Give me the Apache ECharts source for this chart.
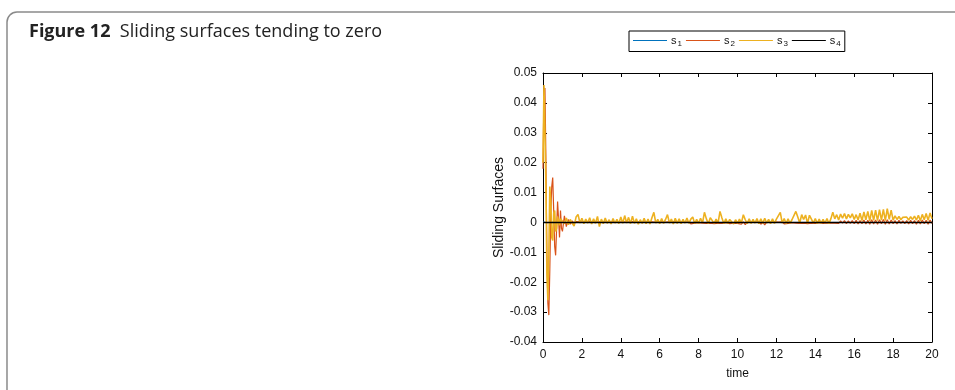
<!DOCTYPE html>
<html>
<head>
<meta charset="utf-8">
<script src="https://cdn.jsdelivr.net/npm/echarts@6/dist/echarts.min.js"></script>
<style>
  html, body { margin: 0; padding: 0; background: #fff; }
  #chart { width: 955px; height: 390px; }
</style>
</head>
<body>
<div id="chart"></div>
<script>
// Sliding surfaces s1..s4 of the controller over the simulation time.

const xTicks = [0, 2, 4, 6, 8, 10, 12, 14, 16, 18, 20];
const yTicks = [-0.04, -0.03, -0.02, -0.01, 0, 0.01, 0.02, 0.03, 0.04, 0.05];

// Initial transient, sampled every 0.05 s
const tEarly = [0, 0.05, 0.1, 0.15, 0.2, 0.25, 0.3, 0.35, 0.4, 0.45,
                0.5, 0.55, 0.6, 0.65, 0.7, 0.75, 0.8, 0.85, 0.9, 0.95];

const s2Early = [0.018, 0.044, 0.045, 0.021, -0.010, -0.027, -0.031, -0.016, 0.003, 0.012,
                 0.015, 0.004, -0.008, -0.011, -0.002, 0.007, 0.001, -0.005, 0.004, -0.002];

const s3Early = [0.020, 0.046, 0.046, 0.013, -0.017, -0.026, -0.011, 0.012, 0.007, -0.005,
                 -0.006, 0.003, 0.004, -0.003, -0.002, 0.002, 0.0015, -0.001, 0.0012, 0.0008];

// Remaining run, sampled every 0.1 s from t = 1 to t = 20
const LATE_START = 1;
const LATE_STEP = 0.1;

const s2Late = [
  -0.0030, 0.0022, -0.0014, 0.0010, -0.0006, 0.0005, -0.0004, 0.0003, -0.0002, 0.0002,
  -0.0002, 0.0001, -0.0003, 0.0002, -0.0001, 0.0003, -0.0002, 0.0001, -0.0004, 0.0002,
  -0.0001, 0.0002, -0.0003, 0.0001, -0.0002, 0.0002, -0.0001, 0.0003, -0.0002, 0.0001,
  -0.0003, 0.0002, -0.0001, 0.0001, -0.0004, 0.0002, -0.0002, 0.0003, -0.0001, 0.0002,
  -0.0002, 0.0001, -0.0003, 0.0002, -0.0001, 0.0003, -0.0002, 0.0001, -0.0003, 0.0002,
  -0.0001, 0.0002, -0.0002, 0.0001, -0.0003, 0.0002, -0.0001, 0.0003, -0.0002, 0.0001,
  -0.0004, 0.0002, -0.0002, 0.0001, -0.0003, 0.0002, -0.0005, 0.0001, -0.0002, 0.0002,
  -0.0001, 0.0003, -0.0002, 0.0001, -0.0003, 0.0002, -0.0002, 0.0001, -0.0004, 0.0002,
  -0.0002, 0.0001, -0.0003, 0.0002, -0.0001, 0.0002, -0.0004, 0.0001, -0.0002, 0.0003,
  -0.0003, 0.0001, -0.0006, 0.0002, -0.0007, 0.0001, -0.0005, 0.0002, -0.0003, 0.0001,
  -0.0002, 0.0002, -0.0006, 0.0001, -0.0008, 0.0002, -0.0003, 0.0001, -0.0002, 0.0002,
  -0.0003, 0.0001, -0.0002, 0.0002, -0.0005, 0.0001, -0.0003, 0.0002, -0.0001, 0.0002,
  -0.0002, 0.0001, -0.0003, 0.0002, -0.0002, 0.0001, -0.0004, 0.0002, -0.0002, 0.0001,
  -0.0003, 0.0002, -0.0001, 0.0001, -0.0003, 0.0002, -0.0002, 0.0001, -0.0002, 0.0003,
  -0.0002, 0.0004, -0.0003, 0.0005, -0.0002, 0.0006, -0.0004, 0.0005, -0.0003, 0.0006,
  -0.0004, 0.0007, -0.0005, 0.0006, -0.0004, 0.0008, -0.0005, 0.0007, -0.0006, 0.0009,
  -0.0005, 0.0008, -0.0006, 0.0009, -0.0004, 0.0010, -0.0006, 0.0009, -0.0005, 0.0008,
  -0.0004, 0.0006, -0.0005, 0.0007, -0.0003, 0.0005, -0.0004, 0.0006, -0.0005, 0.0007,
  -0.0004, 0.0006, -0.0006, 0.0007, -0.0005, 0.0008, -0.0004, 0.0007, -0.0006, 0.0008,
  -0.0003
];

const s3Late = [
  0.0012, -0.0004, 0.0015, -0.0008, 0.0010, -0.0003, -0.0012, 0.0018, 0.0027, -0.0002,
  0.0014, -0.0004, 0.0011, -0.0002, 0.0016, -0.0005, 0.0012, -0.0003, 0.0020, -0.0014,
  0.0011, -0.0004, 0.0015, -0.0003, 0.0009, -0.0005, 0.0013, -0.0002, 0.0010, -0.0004,
  0.0018, -0.0003, 0.0023, -0.0002, 0.0017, -0.0004, 0.0021, -0.0003, 0.0012, -0.0006,
  0.0009, -0.0003, 0.0014, -0.0004, 0.0011, -0.0005, 0.0016, 0.0034, -0.0002, 0.0010,
  -0.0004, 0.0013, -0.0003, 0.0010, 0.0026, -0.0002, 0.0011, -0.0005, 0.0014, -0.0003,
  0.0012, -0.0004, 0.0010, -0.0002, 0.0015, -0.0003, 0.0011, 0.0018, -0.0004, 0.0010,
  -0.0003, 0.0014, -0.0002, 0.0034, 0.0012, -0.0004, 0.0016, 0.0022, -0.0003, 0.0011,
  -0.0002, 0.0037, 0.0015, -0.0004, 0.0012, -0.0003, 0.0010, 0.0014, -0.0005, 0.0009,
  -0.0003, 0.0011, -0.0002, 0.0026, 0.0009, -0.0004, 0.0012, -0.0003, 0.0010, -0.0002,
  0.0013, -0.0004, 0.0012, -0.0003, 0.0014, -0.0002, 0.0010, -0.0004, 0.0012, -0.0003,
  0.0011, 0.0016, 0.0034, -0.0002, 0.0013, -0.0004, 0.0012, -0.0003, 0.0009, 0.0014,
  0.0037, 0.0018, -0.0002, 0.0026, 0.0010, 0.0025, -0.0003, 0.0024, 0.0011, -0.0002,
  0.0013, -0.0004, 0.0011, -0.0003, 0.0010, -0.0002, 0.0013, -0.0004, 0.0012, 0.0034,
  0.0012, 0.0026, 0.0008, 0.0028, 0.0014, 0.0030, 0.0012, 0.0027, 0.0015, 0.0029,
  0.0010, 0.0026, 0.0008, 0.0031, 0.0006, 0.0035, 0.0009, 0.0037, 0.0005, 0.0040,
  0.0007, 0.0041, 0.0006, 0.0043, 0.0008, 0.0044, 0.0006, 0.0046, 0.0010, 0.0041,
  0.0008, 0.0022, 0.0010, 0.0020, 0.0009, 0.0017, 0.0011, 0.0018, 0.0008, 0.0019,
  0.0010, 0.0021, 0.0008, 0.0024, 0.0006, 0.0027, 0.0009, 0.0030, 0.0007, 0.0032,
  0.0012
];

// s1 and s4 stay on the zero line
const tFlat = [0, 0.2, 0.4, 0.6, 0.8, 1, 2, 5, 10, 15, 20];
const s1Flat = [0.0002, -0.0001, 0.0001, 0, 0, 0, 0, 0, 0, 0, 0];
const s4Flat = [0, 0, 0, 0, 0, 0, 0, 0, 0, 0, 0];

const tLate = s3Late.map((_, i) => +(LATE_START + i * LATE_STEP).toFixed(2));
const tAll = tEarly.concat(tLate);

const pairs = (ts, vs) => ts.map((t, i) => [t, vs[i]]);

const chart = echarts.init(document.getElementById('chart'), null, { renderer: 'canvas' });

const tickFont = { fontFamily: 'Liberation Sans, Arial, sans-serif', fontSize: 12, color: '#111' };
const lineAxis = { show: true, onZero: false, lineStyle: { color: '#000', width: 1 } };
const tickIn = { show: true, inside: true, length: 4, lineStyle: { color: '#000', width: 1 } };

chart.setOption({
  animation: false,
  backgroundColor: '#fff',
  title: {
    left: 24, top: 18,
    text: '{b|Figure 12}{n|  Sliding surfaces tending to zero}',
    textStyle: {
      rich: {
        b: { fontFamily: 'Open Sans', fontWeight: 'bold', fontSize: 18, color: '#222' },
        n: { fontFamily: 'Open Sans', fontWeight: 'normal', fontSize: 18, color: '#222' }
      }
    }
  },
  graphic: [{
    type: 'rect', silent: true, z: -1,
    shape: { x: 7, y: 12, width: 990, height: 420, r: 10 },
    style: { fill: 'none', stroke: '#8a8a8a', lineWidth: 1.5 }
  }],
  legend: {
    left: 629, top: 31,
    padding: [4, 4, 4, 4],
    borderColor: '#000', borderWidth: 1, borderRadius: 0,
    icon: 'rect',
    itemWidth: 34, itemHeight: 1, itemGap: 4,
    data: ['s1', 's2', 's3', 's4'],
    formatter: name => '{s|s}{k|' + name.slice(1) + '}',
    textStyle: {
      padding: [0, 0, 0, -1],
      rich: {
        s: { fontFamily: 'Liberation Sans, Arial', fontSize: 11, color: '#111', lineHeight: 14, verticalAlign: 'middle' },
        k: { fontFamily: 'Liberation Sans, Arial', fontSize: 8, color: '#111', lineHeight: 14, verticalAlign: 'bottom', padding: [4, 0, 0, 1] }
      }
    }
  },
  grid: { left: 543, right: 23, top: 73, bottom: 48, containLabel: false },
  xAxis: [{
    type: 'value', position: 'bottom', min: 0, max: 20, interval: 2,
    axisLine: lineAxis, axisTick: tickIn, splitLine: { show: false },
    axisLabel: Object.assign({ margin: 7 }, tickFont),
    name: 'time', nameLocation: 'middle', nameGap: 26,
    nameTextStyle: { fontFamily: 'Liberation Sans, Arial', fontSize: 12, color: '#111' }
  }, {
    type: 'value', position: 'top', min: 0, max: 20, interval: 2,
    axisLine: lineAxis, axisTick: tickIn, splitLine: { show: false },
    axisLabel: { show: false }
  }],
  yAxis: [{
    type: 'value', position: 'left', min: -0.04, max: 0.05, interval: 0.01,
    axisLine: lineAxis, axisTick: tickIn, splitLine: { show: false },
    axisLabel: Object.assign({
      margin: 6,
      formatter: v => {
        const r = Math.round(v * 100) / 100;
        return yTicks.some(t => Math.abs(t - r) < 1e-9) ? (r === 0 ? '0' : r.toFixed(2)) : '';
      }
    }, tickFont),
    name: 'Sliding Surfaces', nameLocation: 'middle', nameGap: 37,
    nameTextStyle: { fontFamily: 'Liberation Sans, Arial', fontSize: 14, color: '#111' }
  }, {
    type: 'value', position: 'right', min: -0.04, max: 0.05, interval: 0.01,
    axisLine: lineAxis, axisTick: tickIn, splitLine: { show: false },
    axisLabel: { show: false }
  }],
  series: [
    { name: 's1', type: 'line', symbol: 'none', data: pairs(tFlat, s1Flat),
      color: '#0072BD', lineStyle: { width: 1, color: '#0072BD' } },
    { name: 's2', type: 'line', symbol: 'none', data: pairs(tAll, s2Early.concat(s2Late)),
      color: '#D95319', lineStyle: { width: 1.2, color: '#D95319' } },
    { name: 's3', type: 'line', symbol: 'none', data: pairs(tAll, s3Early.concat(s3Late)),
      color: '#EDB120', lineStyle: { width: 1.6, color: '#EDB120' } },
    { name: 's4', type: 'line', symbol: 'none', data: pairs(tFlat, s4Flat),
      color: '#000000', lineStyle: { width: 1.4, color: '#000000' } }
  ]
});
</script>
</body>
</html>
